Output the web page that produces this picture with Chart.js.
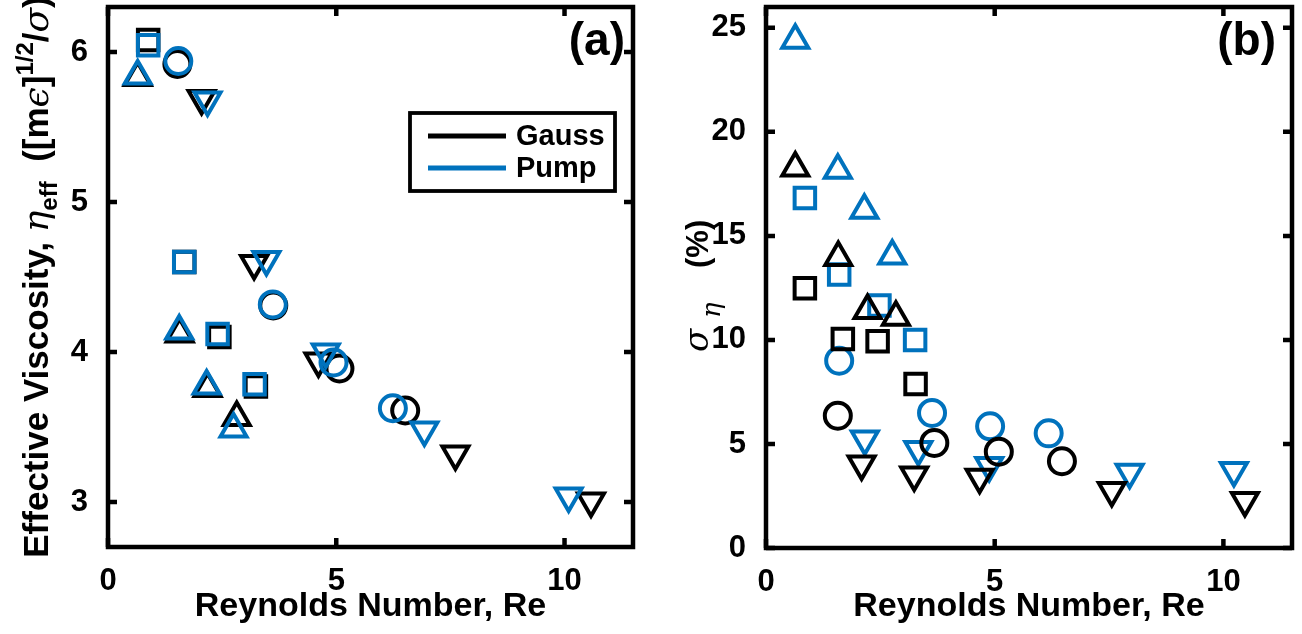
<!DOCTYPE html>
<html><head><meta charset="utf-8">
<script src="https://cdn.jsdelivr.net/npm/chart.js@4.4.1/dist/chart.umd.min.js"></script>
<style>
html,body{margin:0;padding:0;background:#fff;}
#wrap{position:relative;width:1302px;height:634px;overflow:hidden;background:#fff;}
canvas{position:absolute;top:0;}
</style></head><body>
<div id="wrap">
<canvas id="ca" width="651" height="634" style="left:0px"></canvas>
<canvas id="cb" width="651" height="634" style="left:651px"></canvas>
</div>
<script>
// ---------- tick labels ----------
const reTicks = [0, 5, 10];
const etaTicks = [3, 4, 5, 6];
const sigmaTicks = [0, 5, 10, 15, 20, 25];

// ---------- panel (a): [Re, effective viscosity] ----------
const etaGaussSquare = [[0.88, 6.08], [1.67, 4.60], [2.44, 4.10], [3.24, 3.77]];
const etaPumpSquare  = [[0.88, 6.045], [1.67, 4.60], [2.40, 4.12], [3.21, 3.785]];
const etaGaussUp     = [[0.65, 5.83], [1.57, 4.12], [2.18, 3.757], [2.82, 3.564]];
const etaPumpUp      = [[0.65, 5.84], [1.56, 4.14], [2.16, 3.774], [2.75, 3.486]];
const etaGaussCircle = [[1.52, 5.92], [3.62, 4.31], [5.07, 3.89], [6.51, 3.61]];
const etaPumpCircle  = [[1.54, 5.94], [3.61, 4.317], [4.94, 3.93], [6.24, 3.625]];
const etaGaussDown   = [[2.05, 5.69], [3.20, 4.59], [4.61, 3.94], [7.61, 3.32], [10.58, 3.007]];
const etaPumpDown    = [[2.18, 5.68], [3.47, 4.616], [4.77, 4.00], [6.93, 3.48], [10.09, 3.04]];

// ---------- panel (b): [Re, sigma_eta (%)] ----------
const sigGaussSquare = [[0.85, 12.48], [1.68, 10.05], [2.44, 9.94], [3.27, 7.88]];
const sigPumpSquare  = [[0.85, 16.82], [1.60, 13.15], [2.48, 11.65], [3.26, 10.0]];
const sigGaussUp     = [[0.64, 18.26], [1.58, 13.96], [2.22, 11.41], [2.84, 11.09]];
const sigPumpUp      = [[0.64, 24.4], [1.57, 18.15], [2.15, 16.23], [2.76, 14.03]];
const sigGaussCircle = [[1.57, 6.36], [3.68, 5.05], [5.09, 4.63], [6.47, 4.17]];
const sigPumpCircle  = [[1.60, 9.0], [3.63, 6.49], [4.90, 5.85], [6.18, 5.51]];
const sigGaussDown   = [[2.09, 4.04], [3.24, 3.51], [4.67, 3.40], [7.56, 2.76], [10.47, 2.28]];
const sigPumpDown    = [[2.16, 5.24], [3.33, 4.73], [4.88, 3.96], [7.95, 3.64], [10.23, 3.72]];

const seriesNames = ['Gauss', 'Pump'];
const BLACK = '#000000';
const BLUE = '#0072BD';
const SANS = '"Liberation Sans", Arial, Helvetica, sans-serif';
const SERIF = '"DejaVu Serif", "Liberation Serif", serif';

Chart.defaults.font.family = SANS;
Chart.defaults.color = '#000';

function ds(label, pts, color, style, radius, rot) {
  return {
    label: label,
    data: pts.map(p => ({x: p[0], y: p[1]})),
    showLine: false,
    pointStyle: style,
    pointRadius: radius,
    pointHoverRadius: radius,
    pointRotation: rot || 0,
    pointBorderWidth: 4,
    pointHoverBorderWidth: 4,
    pointBorderColor: color,
    borderColor: color,
    pointBackgroundColor: 'rgba(0,0,0,0)',
    backgroundColor: 'rgba(0,0,0,0)',
    clip: false
  };
}

function setOf(c, sq, up, ci, dn, name) {
  return [
    ds(name, sq, c, 'rect', 14.5),
    ds(name, up, c, 'triangle', 15, 0),
    ds(name, ci, c, 'circle', 13),
    ds(name, dn, c, 'triangle', 15, 180)
  ];
}

const framePlugin = {
  id: 'frame',
  afterDraw(chart) {
    const {ctx, chartArea: a, scales: {x, y}} = chart;
    ctx.save();
    ctx.strokeStyle = '#000';
    ctx.lineWidth = 4.5;
    const tl = 9;
    ctx.beginPath();
    x.ticks.forEach(t => {
      const px = x.getPixelForValue(t.value);
      ctx.moveTo(px, a.bottom); ctx.lineTo(px, a.bottom - tl);
      ctx.moveTo(px, a.top); ctx.lineTo(px, a.top + tl);
    });
    y.ticks.forEach(t => {
      const py = y.getPixelForValue(t.value);
      ctx.moveTo(a.left, py); ctx.lineTo(a.left + tl, py);
      ctx.moveTo(a.right, py); ctx.lineTo(a.right - tl, py);
    });
    ctx.stroke();
    ctx.lineJoin = 'miter';
    ctx.strokeRect(a.left, a.top, a.right - a.left, a.bottom - a.top);
    ctx.restore();
  }
};

// draws rotated text segments going upward; seg.at = absolute offset (px) along the text direction
function richVertical(ctx, segs, xBase, yStart) {
  ctx.save();
  ctx.translate(xBase, yStart);
  ctx.rotate(-Math.PI / 2);
  ctx.fillStyle = '#000';
  ctx.textBaseline = 'alphabetic';
  ctx.textAlign = 'left';
  let cx = 0;
  segs.forEach(s => {
    ctx.font = s.f;
    if (s.at !== undefined) cx = s.at;
    ctx.fillText(s.t, cx, s.dy || 0);
    cx += ctx.measureText(s.t).width;
  });
  ctx.restore();
}

const annotA = {
  id: 'annotA',
  afterDraw(chart) {
    const ctx = chart.ctx;
    const a = chart.chartArea;
    // panel letter
    ctx.save();
    ctx.font = 'bold 46px ' + SANS;
    ctx.textAlign = 'right'; ctx.textBaseline = 'middle';
    ctx.fillStyle = '#000';
    ctx.fillText('(a)', a.right - 8, 42);
    ctx.restore();
    // legend
    ctx.save();
    ctx.lineWidth = 3.8; ctx.strokeStyle = '#000';
    ctx.strokeRect(410, 113, 205, 78);
    const rows = [[BLACK, 136, seriesNames[0]], [BLUE, 168, seriesNames[1]]];
    rows.forEach(r => {
      ctx.strokeStyle = r[0]; ctx.lineWidth = 5;
      ctx.beginPath(); ctx.moveTo(428, r[1]); ctx.lineTo(506, r[1]); ctx.stroke();
      ctx.fillStyle = '#000';
      ctx.font = 'bold 29px ' + SANS;
      ctx.textAlign = 'left'; ctx.textBaseline = 'middle';
      ctx.fillText(r[2], 516, r[1] + 1);
    });
    ctx.restore();
    // y title
    const B = 'bold 35px ' + SANS, Bs = 'bold 24px ' + SANS, G = 'italic 36px ' + SERIF;
    const segs = [
      {t: 'Effective Viscosity, ', f: B},
      {t: '\u03B7', f: G},
      {t: 'eff', f: Bs, dy: 9},
      {t: '  ([m', f: B},
      {t: '\u03F5', f: G},
      {t: ']', f: B},
      {t: '1/2', f: Bs, dy: -15},
      {t: '/', f: B},
      {t: '\u03C3', f: G},
      {t: ')', f: B}
    ];
    let w = 0;
    ctx.save();
    segs.forEach(s => { ctx.font = s.f; w += ctx.measureText(s.t).width; });
    ctx.restore();
    const cy = (a.top + a.bottom) / 2;
    richVertical(ctx, segs, 48, cy + w / 2);
  }
};

const annotB = {
  id: 'annotB',
  afterDraw(chart) {
    const ctx = chart.ctx;
    const a = chart.chartArea;
    ctx.save();
    ctx.font = 'bold 46px ' + SANS;
    ctx.textAlign = 'right'; ctx.textBaseline = 'middle';
    ctx.fillStyle = '#000';
    ctx.fillText('(b)', a.right - 16, 42);
    ctx.restore();
    const segs = [
      {t: '\u03C3', f: 'italic 34px ' + SERIF, at: 0},
      {t: '\u03B7', f: 'italic 26px ' + SERIF, dy: 12, at: 34},
      {t: '(%)', f: 'bold 31px ' + SANS, at: 84}
    ];
    richVertical(ctx, segs, 708 - 651, 352);
  }
};

function noPad(s) { s.paddingTop = 0; s.paddingBottom = 0; s.paddingLeft = 0; s.paddingRight = 0; }

function makeChart(id, datasets, yMin, yMax, yTicks, pad, yW, xH, plugin) {
  return new Chart(document.getElementById(id), {
    type: 'scatter',
    data: {datasets: datasets},
    options: {
      responsive: false,
      animation: false,
      devicePixelRatio: 1,
      events: [],
      layout: {padding: pad, autoPadding: false},
      plugins: {legend: {display: false}, tooltip: {enabled: false}},
      scales: {
        x: {
          type: 'linear', min: 0, max: 11.5, bounds: 'data',
          grid: {display: false}, border: {display: false},
          afterBuildTicks: s => { s.ticks = reTicks.map(v => ({value: v})); },
          afterFit: s => { s.height = xH; noPad(s); },
          ticks: {font: {size: 31, weight: 'bold'}, color: '#000', padding: 8, maxRotation: 0,
                  callback: v => String(v)},
          title: {display: true, text: 'Reynolds Number, Re', color: '#000',
                  font: {size: 34, weight: 'bold'}, padding: {top: 0, bottom: 7}}
        },
        y: {
          type: 'linear', min: yMin, max: yMax, bounds: 'data',
          grid: {display: false}, border: {display: false},
          afterBuildTicks: s => { s.ticks = yTicks.map(v => ({value: v})); },
          afterFit: s => { s.width = yW; noPad(s); },
          ticks: {font: {size: 31, weight: 'bold'}, color: '#000', padding: 12,
                  callback: v => String(v)}
        }
      }
    },
    plugins: [framePlugin, plugin]
  });
}

// panel (a): Pump (blue) drawn on top
makeChart('ca',
  setOf(BLUE, etaPumpSquare, etaPumpUp, etaPumpCircle, etaPumpDown, seriesNames[1])
    .concat(setOf(BLACK, etaGaussSquare, etaGaussUp, etaGaussCircle, etaGaussDown, seriesNames[0])),
  2.7, 6.3, etaTicks, {left: 0, right: 18, top: 7, bottom: 0}, 108, 87, annotA);

// panel (b): Gauss (black) drawn on top
makeChart('cb',
  setOf(BLACK, sigGaussSquare, sigGaussUp, sigGaussCircle, sigGaussDown, seriesNames[0])
    .concat(setOf(BLUE, sigPumpSquare, sigPumpUp, sigPumpCircle, sigPumpDown, seriesNames[1])),
  0, 26, sigmaTicks, {left: 0, right: 10, top: 7, bottom: 0}, 115, 86, annotB);
</script>
</body></html>
